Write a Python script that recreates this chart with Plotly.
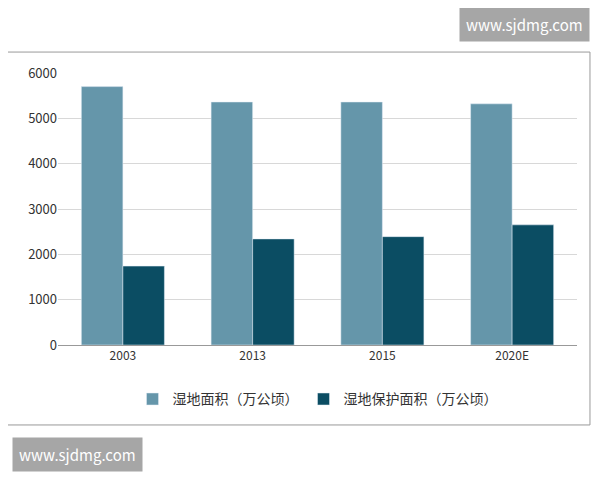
import plotly.graph_objects as go

categories = ["2003", "2013", "2015", "2020E"]
wetland = [5700, 5360, 5360, 5320]
protected = [1740, 2340, 2390, 2650]
name1 = "湿地面积（万公顷）"
name2 = "湿地保护面积（万公顷）"

fig = go.Figure()
fig.add_bar(x=categories, y=wetland, name=name1, marker_color="#6596aa")
fig.add_bar(x=categories, y=protected, name=name2, marker_color="#0b4d63")

F = "Noto Sans CJK SC"
fig.update_layout(
    width=584, height=464, paper_bgcolor="white", plot_bgcolor="white",
    margin=dict(l=50, r=15, t=65, b=127, autoexpand=False),
    bargap=0.36, bargroupgap=0.0,
    font=dict(family=F, size=12, color="#333"),
    legend=dict(orientation="h", x=0.5, xanchor="center", y=-0.2, yanchor="middle",
                font=dict(size=14, color="#333")),
    yaxis=dict(range=[0, 6000], dtick=1000, showgrid=True, gridcolor="#d8d8d8",
               tickfont=dict(size=13, color="#333"), ticklen=0, zeroline=False),
    xaxis=dict(showline=True, linecolor="#999", tickfont=dict(size=12, color="#333")),
    shapes=[dict(type="rect", xref="paper", yref="paper", x0=-0.104, x1=1.025, y0=-0.294, y1=1.077,
                 line=dict(color="#999", width=1))],
    annotations=[
        dict(text="www.sjdmg.com", xref="paper", yref="paper", x=1.025, y=1.18, xanchor="right",
             yanchor="middle", showarrow=False, bgcolor="#a6a6a6", font=dict(color="white", size=15),
             borderpad=6),
        dict(text="www.sjdmg.com", xref="paper", yref="paper", x=-0.089, y=-0.404, xanchor="left",
             yanchor="middle", showarrow=False, bgcolor="#a6a6a6", font=dict(color="white", size=15),
             borderpad=6),
    ],
)
fig.write_html("out.html")
